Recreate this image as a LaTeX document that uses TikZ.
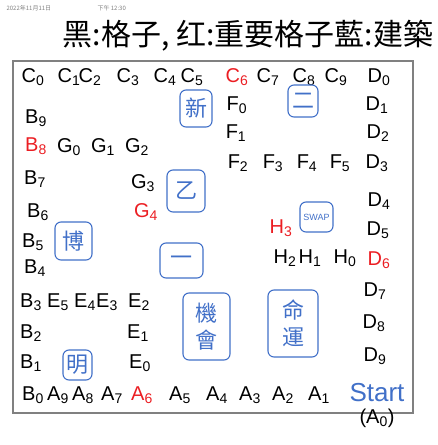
\documentclass[tikz,border=0pt]{standalone}
\usepackage{fontspec}
\setmainfont{Liberation Sans}
\newfontfamily\cjk{Noto Sans CJK SC}
\usetikzlibrary{positioning}
\definecolor{keyred}{RGB}{235,30,35}
\definecolor{bldblue}{RGB}{65,112,200}
\newcommand\cellsub[2]{#1\textsubscript{#2}}

\begin{document}
\begin{tikzpicture}[x=1pt, y=-1pt,
cellnode/.style={inner sep=0pt, font=\fontsize{20}{22}\selectfont},
keynode/.style={cellnode, text=keyred},
buildnode/.style={rectangle, draw=bldblue, text=bldblue, line width=1.1pt, rounded corners=6pt, inner sep=0pt, font=\cjk\fontsize{22}{27}\selectfont, align=center},
]
\useasboundingbox (0,0) rectangle (437,445);

% heading
\node[text=gray, font=\cjk\fontsize{6}{7}\selectfont, anchor=west] (Date)  at (3,8)    {2022年11月11日};
\node[text=gray, font=\cjk\fontsize{6}{7}\selectfont, anchor=west] (Time)  at (94,8)   {下午 12:30};
\node[inner sep=0pt, font=\cjk\fontsize{30}{33}\selectfont]        (Title) at (248,36) {黑:格子, 红:重要格子藍:建築};

% board
\draw[gray, line width=1.2pt] (13,61) rectangle (413,413);

% top row
\node[cellnode] (C0) at (33,77)  {\cellsub{C}{0}};
\node[cellnode] (C1) at (69,77)  {\cellsub{C}{1}};
\node[cellnode] (C2) at (90,77)  {\cellsub{C}{2}};
\node[cellnode] (C3) at (128,77) {\cellsub{C}{3}};
\node[cellnode] (C4) at (165,77) {\cellsub{C}{4}};
\node[cellnode] (C5) at (192,77) {\cellsub{C}{5}};
\node[keynode]  (C6) at (237,77) {\cellsub{C}{6}};
\node[cellnode] (C7) at (268,77) {\cellsub{C}{7}};
\node[cellnode] (C8) at (304,77) {\cellsub{C}{8}};
\node[cellnode] (C9) at (336,77) {\cellsub{C}{9}};
\node[cellnode] (D0) at (379,77) {\cellsub{D}{0}};

% right column
\node[cellnode] (D1) at (377,105) {\cellsub{D}{1}};
\node[cellnode] (D2) at (378,133) {\cellsub{D}{2}};
\node[cellnode] (D3) at (377,163) {\cellsub{D}{3}};
\node[cellnode] (D4) at (379,201) {\cellsub{D}{4}};
\node[cellnode] (D5) at (378,230) {\cellsub{D}{5}};
\node[keynode]  (D6) at (379,260) {\cellsub{D}{6}};
\node[cellnode] (D7) at (375,291) {\cellsub{D}{7}};
\node[cellnode] (D8) at (374,323) {\cellsub{D}{8}};
\node[cellnode] (D9) at (375,356) {\cellsub{D}{9}};

% left column
\node[cellnode] (B9) at (36,118) {\cellsub{B}{9}};
\node[keynode]  (B8) at (36,146) {\cellsub{B}{8}};
\node[cellnode] (B7) at (35,179) {\cellsub{B}{7}};
\node[cellnode] (B6) at (38,212) {\cellsub{B}{6}};
\node[cellnode] (B5) at (33,242) {\cellsub{B}{5}};
\node[cellnode] (B4) at (35,268) {\cellsub{B}{4}};
\node[cellnode] (B3) at (31,302) {\cellsub{B}{3}};
\node[cellnode] (B2) at (31,333) {\cellsub{B}{2}};
\node[cellnode] (B1) at (31,363) {\cellsub{B}{1}};

% bottom row
\node[cellnode] (B0) at (33,395)  {\cellsub{B}{0}};
\node[cellnode] (A9) at (58,395)  {\cellsub{A}{9}};
\node[cellnode] (A8) at (83,395)  {\cellsub{A}{8}};
\node[cellnode] (A7) at (112,395) {\cellsub{A}{7}};
\node[keynode]  (A6) at (142,395) {\cellsub{A}{6}};
\node[cellnode] (A5) at (180,395) {\cellsub{A}{5}};
\node[cellnode] (A4) at (217,395) {\cellsub{A}{4}};
\node[cellnode] (A3) at (250,395) {\cellsub{A}{3}};
\node[cellnode] (A2) at (283,395) {\cellsub{A}{2}};
\node[cellnode] (A1) at (319,395) {\cellsub{A}{1}};
\node[cellnode, text=bldblue, font=\fontsize{26}{28}\selectfont] (Start) at (377,393) {Start};
\node[cellnode] (A0) [below=6pt of Start] {(\cellsub{A}{0})};

% inner tracks
\node[cellnode] (G0) at (69,147)  {\cellsub{G}{0}};
\node[cellnode] (G1) at (103,147) {\cellsub{G}{1}};
\node[cellnode] (G2) at (137,147) {\cellsub{G}{2}};
\node[cellnode] (G3) at (143,183) {\cellsub{G}{3}};
\node[keynode]  (G4) at (146,212) {\cellsub{G}{4}};

\node[cellnode] (F0) at (237,105) {\cellsub{F}{0}};
\node[cellnode] (F1) at (236,133) {\cellsub{F}{1}};
\node[cellnode] (F2) at (238,163) {\cellsub{F}{2}};
\node[cellnode] (F3) at (273,163) {\cellsub{F}{3}};
\node[cellnode] (F4) at (307,163) {\cellsub{F}{4}};
\node[cellnode] (F5) at (340,163) {\cellsub{F}{5}};

\node[keynode]  (H3) at (281,228) {\cellsub{H}{3}};
\node[cellnode] (H2) at (285,258) {\cellsub{H}{2}};
\node[cellnode] (H1) at (310,258) {\cellsub{H}{1}};
\node[cellnode] (H0) at (345,258) {\cellsub{H}{0}};

\node[cellnode] (E5) at (58,302)  {\cellsub{E}{5}};
\node[cellnode] (E4) at (85,302)  {\cellsub{E}{4}};
\node[cellnode] (E3) at (107,302) {\cellsub{E}{3}};
\node[cellnode] (E2) at (139,302) {\cellsub{E}{2}};
\node[cellnode] (E1) at (138,333) {\cellsub{E}{1}};
\node[cellnode] (E0) at (140,363) {\cellsub{E}{0}};

% buildings
\node[buildnode, minimum width=32pt, minimum height=37pt] (Xin)    at (196,108.5) {新};
\node[buildnode, minimum width=30pt, minimum height=32pt] (Er)     at (303,101)   {二};
\node[buildnode, minimum width=38pt, minimum height=42pt] (Yi)     at (186,191)   {乙};
\node[buildnode, minimum width=43pt, minimum height=35pt] (Yat)    at (181.5,260.5) {一};
\node[buildnode, minimum width=37pt, minimum height=38pt] (Bok)    at (73.5,241)  {博};
\node[buildnode, minimum width=29pt, minimum height=30pt] (Ming)   at (77.5,365)  {明};
\node[buildnode, minimum width=47pt, minimum height=67pt] (Chance) at (206.5,326.5) {機\\會};
\node[buildnode, minimum width=50pt, minimum height=67pt] (Fate)   at (293,323.5) {命\\運};
\node[buildnode, minimum width=33pt, minimum height=30pt, font=\fontsize{9}{10}\selectfont] (Swap) at (316.5,217) {SWAP};

\end{tikzpicture}
\end{document}
